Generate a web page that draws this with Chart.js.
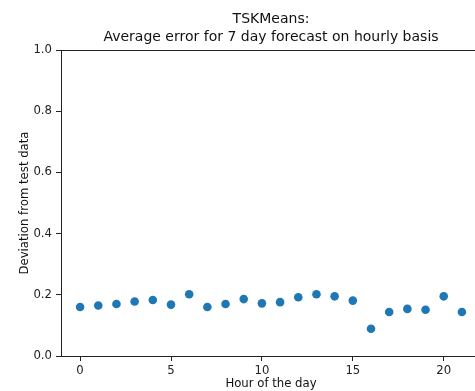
<!DOCTYPE html>
<html>
<head>
<meta charset="utf-8">
<title>TSKMeans hourly error</title>
<script src="https://cdn.jsdelivr.net/npm/chart.js@4.4.0/dist/chart.umd.min.js"></script>
<style>
  html, body { margin: 0; padding: 0; background: #fff; overflow: hidden; }
  #wrap { width: 542px; height: 391px; }
</style>
</head>
<body>
<div id="wrap"><canvas id="myChart" width="542" height="391"></canvas></div>
<script>
// hour of the day vs. average deviation
const hours = [0, 1, 2, 3, 4, 5, 6, 7, 8, 9, 10, 11, 12, 13, 14, 15, 16, 17, 18, 19, 20, 21];
const avgError = [0.160, 0.165, 0.170, 0.178, 0.183, 0.168, 0.202, 0.160, 0.170, 0.186, 0.172, 0.176, 0.192, 0.202, 0.195, 0.181, 0.089, 0.144, 0.154, 0.151, 0.195, 0.144];
const xTicks = [0, 5, 10, 15, 20];
const yTicks = [0.0, 0.2, 0.4, 0.6, 0.8, 1.0];

const titleLines = ["TSKMeans:", "Average error for 7 day forecast on hourly basis"];
const fontName = "'DejaVu Sans', sans-serif";
const ink = "#222";

// matplotlib style box round the axes
const framePlugin = {
  id: "frame",
  afterDraw(chart) {
    const a = chart.chartArea;
    const ctx = chart.ctx;
    ctx.save();
    ctx.strokeStyle = ink;
    ctx.lineWidth = 1;
    ctx.strokeRect(Math.round(a.left) + 0.5, Math.round(a.top) + 0.5,
      Math.round(a.right - a.left), Math.round(a.bottom - a.top));
    ctx.restore();
  }
};

var points = hours.map(function (h, i) { return { x: h, y: avgError[i] }; });

new Chart("myChart", {
  type: "scatter",
  data: {
    datasets: [{
      data: points,
      backgroundColor: "#1f77b4",
      borderWidth: 0,
      pointRadius: 4.3,
      pointHoverRadius: 4.3
    }]
  },
  options: {
    responsive: false,
    animation: false,
    devicePixelRatio: 1,
    layout: { padding: 0 },
    plugins: {
      legend: { display: false },
      tooltip: { enabled: false },
      title: {
        display: true,
        text: titleLines,
        color: "#111",
        font: { family: fontName, size: 14, weight: "normal", lineHeight: 18 / 14 },
        padding: { top: 10, bottom: 4 }
      }
    },
    scales: {
      x: {
        type: "linear",
        min: -1.05,
        max: 22.05,
        afterBuildTicks: function (scale) {
          scale.ticks = xTicks.map(function (v) { return { value: v }; });
        },
        afterFit: function (scale) { scale.height = 35; },
        ticks: {
          color: ink,
          padding: 3,
          maxRotation: 0,
          font: { family: fontName, size: 11.7 },
          callback: function (v) { return String(v); }
        },
        grid: { drawOnChartArea: false, drawTicks: true, tickLength: 5, color: ink },
        border: { display: true, color: ink },
        title: {
          display: true,
          text: "Hour of the day",
          color: "#111",
          font: { family: fontName, size: 11.7 },
          padding: { top: 4, bottom: 0 }
        }
      },
      y: {
        min: 0,
        max: 1,
        afterBuildTicks: function (scale) {
          scale.ticks = yTicks.map(function (v) { return { value: v }; });
        },
        afterFit: function (scale) { scale.width = 61; },
        ticks: {
          color: ink,
          padding: 4,
          font: { family: fontName, size: 11.7 },
          callback: function (v) { return Number(v).toFixed(1); }
        },
        grid: { drawOnChartArea: false, drawTicks: true, tickLength: 5, color: ink },
        border: { display: true, color: ink },
        title: {
          display: true,
          text: "Deviation from test data",
          color: "#111",
          font: { family: fontName, size: 11.7 },
          padding: { top: 18, bottom: 0 }
        }
      },
      // empty right-hand axis, only keeps the plot's right edge off-screen like the crop
      yRight: {
        position: "right",
        min: 0,
        max: 1,
        afterFit: function (scale) { scale.width = 61; },
        ticks: { display: false },
        grid: { display: false },
        border: { display: false }
      }
    }
  },
  plugins: [framePlugin]
});
</script>
</body>
</html>
